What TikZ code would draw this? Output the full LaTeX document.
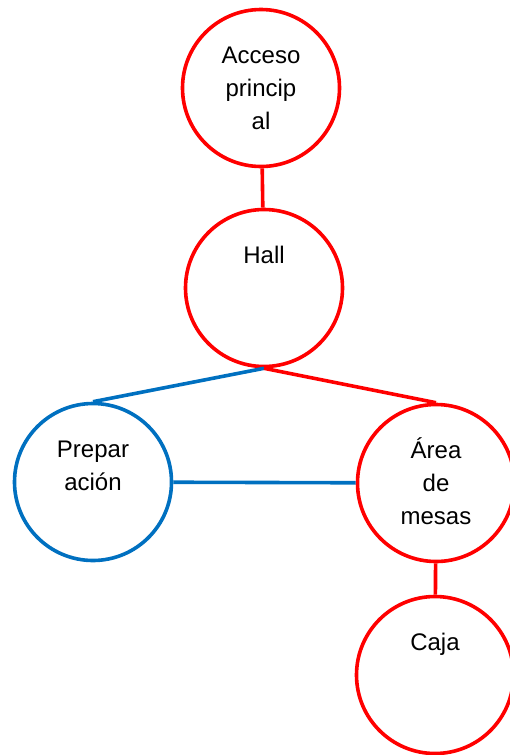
\documentclass[tikz,border=0pt]{standalone}
\usepackage{fontspec}
\setmainfont{Liberation Sans}
\usetikzlibrary{positioning}
\definecolor{lineRed}{RGB}{255,0,0}
\definecolor{lineBlue}{RGB}{0,112,192}

\begin{document}
\begin{tikzpicture}[
	x=1pt, y=-1pt,
	RoomNode/.style={circle, draw=#1, line width=3.6pt, fill=white,
		minimum size=157pt, inner sep=0pt},
	RoomText/.style={anchor=base, align=center, inner sep=0pt,
		font=\fontsize{24}{33}\selectfont},
	Link/.style={draw=#1, line width=3.6pt}
	]
\useasboundingbox (0,0) rectangle (509,755);

\node [RoomNode=lineRed] (acceso) at (261,88) {};
\node [RoomNode=lineRed] (hall) at (264,288) {};
\node [RoomNode=lineBlue] (prep) at (93,482) {};
\node [RoomNode=lineRed] (area) at (436,483) {};
\node [RoomNode=lineRed] (caja) at (435,675) {};

% base of a multi-line text is its last line
\node [RoomText] (accesoText) at ([yshift=-41pt]acceso.center) {Acceso\\princip\\al};
\node [RoomText] (hallText) at ([yshift=25pt]hall.center) {Hall};
\node [RoomText] (prepText) at ([yshift=-8pt]prep.center) {Prepar\\ación};
\node [RoomText] (areaText) at ([yshift=-41pt]area.center) {Área\\de\\mesas};
\node [RoomText] (cajaText) at ([yshift=25pt]caja.center) {Caja};

\draw [Link=lineRed] (acceso) -- (hall);
\draw [Link=lineBlue] (hall.south) -- (prep.north);
\draw [Link=lineRed] (hall.south) -- (area.north);
\draw [Link=lineBlue] (prep) -- (area);
\draw [Link=lineRed] (area) -- (caja);

\end{tikzpicture}
\end{document}
